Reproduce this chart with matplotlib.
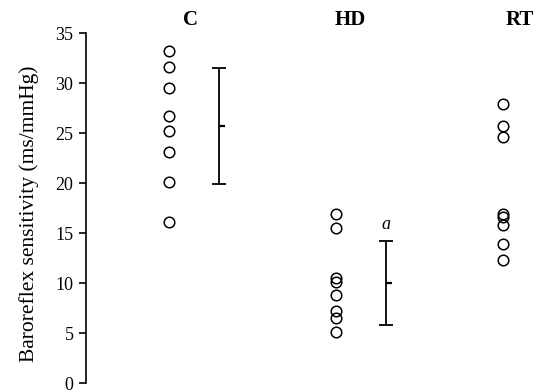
import matplotlib.pyplot as plt

# groups and individual values (ms/mmHg)
groups = ["C", "HD", "RT"]
c_vals = [33.2, 31.6, 29.5, 26.7, 25.2, 23.1, 20.1, 16.1]
hd_vals = [16.9, 15.5, 10.5, 10.1, 8.8, 7.2, 6.5, 5.1]
rt_vals = [27.9, 25.7, 24.6, 16.9, 16.6, 15.8, 13.9, 12.3]

# mean and SD shown as error bars (RT bar is cut off at the right edge)
means = [25.7, 10.0]
sds = [5.8, 4.2]
marks = ["", "a"]

plt.rcParams['font.family'] = ['Liberation Serif', 'DejaVu Serif']

fig = plt.figure(figsize=(5.38, 3.92), dpi=100)
ax = fig.add_axes([86 / 538, 9 / 392, 1 - 86 / 538, 350 / 392])

title_dx = [0.13, 0.085, 0.1]
for i, vals in enumerate([c_vals, hd_vals, rt_vals]):
    ax.plot([i + 1] * len(vals), vals, linestyle='none', marker='o', markersize=7.6,
            markerfacecolor='none', markeredgecolor='black', markeredgewidth=1.1, clip_on=False)
    ax.text(i + 1 + title_dx[i], 35.8, groups[i], ha='center', va='baseline',
            fontsize=15, fontweight='bold')

for i, (m, s) in enumerate(zip(means, sds)):
    x = i + 1 + 0.3
    ax.errorbar([x], [m], yerr=[s], fmt='none', ecolor='black', elinewidth=1.3,
                capsize=4.7, capthick=1.3)
    ax.plot([x], [m], marker=1, markersize=4.5, color='black', markeredgewidth=1.6)
    if marks[i]:
        ax.text(x, m + s + 0.8, marks[i], ha='center', va='bottom', fontsize=13, style='italic')

ax.set_xlim(0.503, 3.21)
ax.set_ylim(0, 35)
ax.set_yticks(range(0, 36, 5))
ax.set_xticks([])
for side in ['top', 'right', 'bottom']:
    ax.spines[side].set_visible(False)
ax.spines['left'].set_linewidth(1.2)
ax.tick_params(axis='y', direction='out', length=5, width=1.2, labelsize=13, pad=4)
ax.set_ylabel("Baroreflex sensitivity (ms/mmHg)", fontsize=15.5)
ax.yaxis.set_label_coords(-0.105, 0.483)

fig.savefig("out.png", dpi=100)
